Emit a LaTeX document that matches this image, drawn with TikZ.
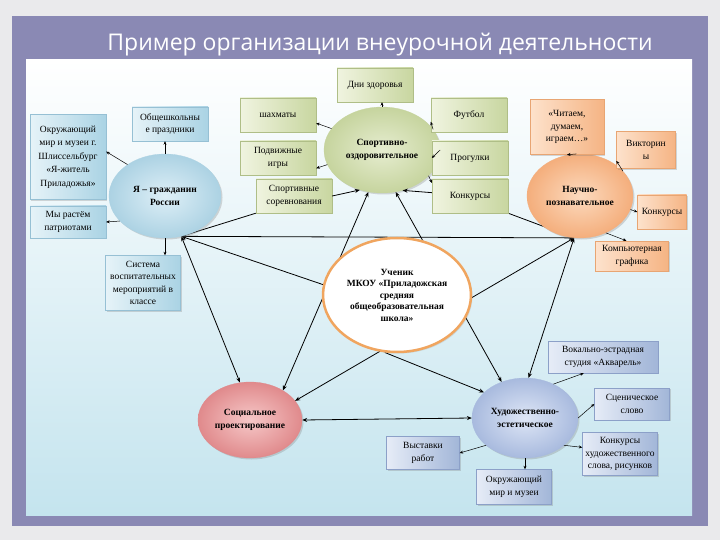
\documentclass[tikz,border=0pt]{standalone}
\usepackage{fontspec}
\setmainfont{Liberation Serif}
\newfontfamily\titlefont{Open Sans}
\usetikzlibrary{
    positioning,
    arrows.meta,
    calc,
    shadows,
    shapes.geometric
}

\definecolor{outergray}{RGB}{234,234,236}
\definecolor{framepurple}{RGB}{138,137,180}
\definecolor{panelblue}{RGB}{196,228,238}
\definecolor{greenlight}{RGB}{240,244,224}
\definecolor{greendark}{RGB}{200,214,160}
\definecolor{greenedge}{RGB}{175,190,135}
\definecolor{bluelight}{RGB}{230,243,248}
\definecolor{bluedark}{RGB}{170,211,228}
\definecolor{blueedge}{RGB}{150,192,212}
\definecolor{orangelight}{RGB}{253,226,204}
\definecolor{orangedark}{RGB}{245,180,132}
\definecolor{orangeedge}{RGB}{232,165,115}
\definecolor{lilaclight}{RGB}{230,236,247}
\definecolor{lilacdark}{RGB}{162,182,216}
\definecolor{lilacedge}{RGB}{140,160,200}
\definecolor{schoolorange}{RGB}{240,165,95}
\definecolor{yain}{RGB}{222,239,247}
\definecolor{yaout}{RGB}{172,210,227}
\definecolor{sportin}{RGB}{230,237,208}
\definecolor{sportout}{RGB}{198,212,158}
\definecolor{nauchin}{RGB}{252,218,190}
\definecolor{nauchout}{RGB}{244,174,124}
\definecolor{socin}{RGB}{246,200,200}
\definecolor{socout}{RGB}{224,138,140}
\definecolor{hudin}{RGB}{222,230,246}
\definecolor{hudout}{RGB}{168,186,222}

\pgfdeclarelayer{back}
\pgfdeclarelayer{wires}
\pgfsetlayers{back,wires,main}

\tikzset{
    box/.style={rectangle, draw=#1edge, left color=#1light, right color=#1dark,
        minimum width=76pt, minimum height=34pt, inner sep=1pt, align=center,
        font=\fontsize{9.5}{12.5}\selectfont, line width=0.4pt,
        drop shadow={opacity=0.3, shadow xshift=1.2pt, shadow yshift=-1.2pt}},
    bubble/.style={ellipse, draw=#1out, inner color=#1in, outer color=#1out,
        inner sep=0pt, align=center, line width=0.3pt,
        font=\fontsize{9.5}{12.5}\selectfont\bfseries,
        drop shadow={opacity=0.3, shadow xshift=1.5pt, shadow yshift=-1.5pt}},
    link/.style={-{Stealth[length=5pt,width=4pt]}, line width=0.8pt},
    twolink/.style={{Stealth[length=5pt,width=4pt]}-{Stealth[length=5pt,width=4pt]}, line width=0.8pt},
    sublink/.style={-{Stealth[length=3.5pt,width=3pt]}, line width=0.5pt}
}

\begin{document}
\begin{tikzpicture}[x=1pt, y=-1pt]
    \useasboundingbox (0,0) rectangle (720,540);
    \begin{pgfonlayer}{back}
        \fill[outergray] (0,0) rectangle (720,540);
        \fill[framepurple] (12,16) rectangle (708,526);
        \fill[top color=white, bottom color=panelblue] (26,60) rectangle (692,515);
    \end{pgfonlayer}

    \node[font=\titlefont\fontsize{23}{27}\selectfont, text=white] (title) at (380,45)
        {Пример организации внеурочной деятельности};

    % outer bubbles
    \node[bubble=ya, minimum width=112pt, minimum height=84pt] (ya) at (165,196)
        {Я -- гражданин\\России};
    \node[bubble=sport, minimum width=116pt, minimum height=86pt] (sport) at (382,150)
        {Спортивно-\\оздоровительное};
    \node[bubble=nauch, minimum width=106pt, minimum height=84pt] (nauch) at (580,196)
        {Научно-\\познавательное};
    \node[bubble=soc, minimum width=104pt, minimum height=76pt] (soc) at (250,420)
        {Социальное\\проектирование};
    \node[bubble=hud, minimum width=106pt, minimum height=80pt] (hud) at (525,418)
        {Художественно-\\эстетическое};
    \node[ellipse, draw=schoolorange, line width=2.5pt, fill=white, minimum width=148pt,
        minimum height=114pt, inner sep=0pt, align=center, font=\fontsize{9.5}{11.5}\selectfont\bfseries,
        drop shadow={opacity=0.2, shadow xshift=1.5pt, shadow yshift=-1.5pt}] (pupil) at (397,295)
        {Ученик\\МКОУ «Приладожская\\средняя\\общеобразовательная\\школа»};

    % boxes round the bubbles
    \node[box=green] (dni) at (375,85) {Дни здоровья};
    \node[box=green] (chess) at (278,115) {шахматы};
    \node[box=green] (podv) at (278,158) {Подвижные\\игры};
    \node[box=green] (sorev) at (294,196) {Спортивные\\соревнования};
    \node[box=green] (futbol) at (469,115) {Футбол};
    \node[box=green] (progul) at (470,158) {Прогулки};
    \node[box=green] (konkA) at (470,196) {Конкурсы};

    \node[box=blue] (obsh) at (170,124) {Общешкольны\\е праздники};
    \node[box=blue, minimum height=85pt, font=\fontsize{9.5}{13.5}\selectfont] (okr) at (68,157)
        {Окружающий\\мир и музеи г.\\Шлиссельбург\\«Я-житель\\Приладожья»};
    \node[box=blue, minimum height=32pt] (myrast) at (68,222) {Мы растём\\патриотами};
    \node[box=blue, minimum width=75pt, minimum height=55pt] (sistema) at (143,283)
        {Система\\воспитательных\\мероприятий в\\классе};

    \node[box=orange, minimum width=74pt, minimum height=55pt] (chit) at (567,127)
        {«Читаем,\\думаем,\\играем…»};
    \node[box=orange, minimum width=59pt, minimum height=37pt] (viktor) at (646,150) {Викторин\\ы};
    \node[box=orange, minimum width=49pt, minimum height=34pt] (konkB) at (662,212) {Конкурсы};
    \node[box=orange, minimum width=73pt, minimum height=30pt] (komp) at (632,256)
        {Компьютерная\\графика};

    \node[box=lilac, minimum width=110pt, minimum height=32pt] (vokal) at (603,357)
        {Вокально-эстрадная\\студия «Акварель»};
    \node[box=lilac, minimum width=75pt, minimum height=32pt] (scen) at (632,404) {Сценическое\\слово};
    \node[box=lilac, minimum width=75pt, minimum height=43pt] (konkC) at (620,454)
        {Конкурсы\\художественного\\слова, рисунков};
    \node[box=lilac, minimum width=73pt, minimum height=33pt] (vyst) at (423,453) {Выставки\\работ};
    \node[box=lilac, minimum width=75pt, minimum height=35pt] (okrB) at (514,487)
        {Окружающий\\мир и музеи};

    \coordinate (yaP) at (ya.-68);
    \coordinate (naP) at (nauch.-98);

    % big connectors
    \begin{pgfonlayer}{wires}
        \draw[twolink] (yaP) -- (naP);
        \draw[link] (sorev.south west) -- (yaP);
        \draw[link] (konkA.south east) -- (naP);
        \draw[link] (pupil.172) -- (yaP);
        \draw[twolink] (yaP) -- (soc.105);
        \draw[twolink] (sport.-108) -- (soc.42);
        \draw[twolink] (sport.-72) -- (hud.123);
        \draw[twolink] (naP) -- (soc.23);
        \draw[link] (pupil.-102) -- (hud.148);
        \draw[twolink] (naP) -- (hud.85);
        \draw[twolink] (soc.east) -- (hud.west);
    \end{pgfonlayer}

    % small connectors
    \draw[sublink] (ya.north) -- (ya.north |- obsh.south);
    \draw[sublink] (ya.140) -- (okr.8);
    \draw[sublink] (ya.-151) -- (myrast.east);
    \draw[sublink] (ya.south) -- (ya.south |- sistema.north);
    \draw[sublink] (sport.north) -- (sport.north |- dni.south);
    \draw[sublink] (sport.157) -- (chess.-12);
    \draw[sublink] (sport.-165) -- (podv.-15);
    \draw[sublink] (sport.22) -- (futbol.-170);
    \draw[sublink] (sport.east) -- (progul.west);
    \draw[sublink] (sport.-29) -- (konkA.161);
    \draw[link] (sorev.east) -- (sport.-119);
    \draw[link] (konkA.175) -- (sport.-63);
    \draw[sublink] (nauch.95) -- (chit.south);
    \draw[sublink] (nauch.30) -- (viktor.-160);
    \draw[sublink] (nauch.-15) -- (konkB.west);
    \draw[sublink] (nauch.-55) -- (komp.110);
    \draw[sublink] (hud.50) -- (vokal.-140);
    \draw[sublink] (hud.east) -- (scen.west);
    \draw[sublink] (hud.-35) -- (konkC.170);
    \draw[sublink] (hud.-145) -- (vyst.east);
    \draw[sublink] (hud.south) -- (hud.south |- okrB.north);
\end{tikzpicture}
\end{document}
